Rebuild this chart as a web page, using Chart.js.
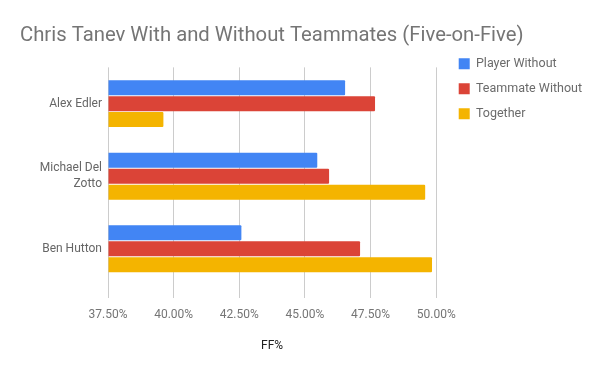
<!DOCTYPE html>
<html>
<head>
<meta charset="utf-8">
<script src="https://cdn.jsdelivr.net/npm/chart.js@4.4.1/dist/chart.umd.min.js"></script>
<style>
  html, body { margin: 0; padding: 0; background: #fff; }
  #wrap { width: 600px; height: 371px; position: relative; }
</style>
</head>
<body>
<div id="wrap"><canvas id="myChart"></canvas></div>
<script>
const players = [
    'Alex Edler',
    ['Michael Del', 'Zotto'],
    'Ben Hutton'
];
const playerWithout = [46.53, 45.47, 42.58];
const teammateWithout = [47.67, 45.92, 47.10];
const together = [39.61, 49.58, 49.84];
const xTicks = [37.5, 40, 42.5, 45, 47.5, 50];

const data = {
    labels: players,
    datasets: [{
        label: 'Player Without',
        data: playerWithout,
        backgroundColor: '#4285F4'
    }, {
        label: 'Teammate Without',
        data: teammateWithout,
        backgroundColor: '#DB4437'
    }, {
        label: 'Together',
        data: together,
        backgroundColor: '#F4B400'
    }]
};

const config = {
    type: 'bar',
    data: data,
    options: {
        indexAxis: 'y',
        responsive: true,
        maintainAspectRatio: false,
        animation: false,
        base: 37.5,
        layout: {
            padding: { left: 20, right: 8, top: 0, bottom: 0 }
        },
        datasets: {
            bar: {
                categoryPercentage: 0.66,
                barPercentage: 0.94,
                borderRadius: 1,
                borderSkipped: 'start'
            }
        },
        scales: {
            x: {
                min: xTicks[0],
                max: xTicks[xTicks.length - 1],
                afterBuildTicks: function (axis) {
                    axis.ticks = xTicks.map(v => ({ value: v }));
                },
                afterFit: function (axis) { axis.height = 86; },
                ticks: {
                    color: '#757575',
                    font: { family: 'Roboto', size: 12 },
                    padding: 10,
                    callback: v => v.toFixed(2) + '%'
                },
                grid: { color: '#cccccc', tickLength: 13, tickColor: '#cccccc' },
                border: { display: false },
                title: {
                    display: true,
                    text: 'FF%',
                    color: '#222222',
                    font: { family: 'Roboto', size: 12 },
                    padding: { top: 4, bottom: 18 }
                }
            },
            y: {
                afterFit: function (axis) { axis.width = 88; },
                ticks: {
                    color: '#666666',
                    font: { family: 'Roboto', size: 12, lineHeight: 1.34 },
                    padding: 6
                },
                grid: { display: false, drawTicks: false },
                border: { display: false }
            },
            // empty spacer between plot and legend
            yGap: {
                type: 'category',
                position: 'right',
                display: true,
                afterFit: function (axis) { axis.width = 10; },
                ticks: { display: false },
                grid: { display: false, drawTicks: false },
                border: { display: false }
            }
        },
        plugins: {
            title: {
                display: true,
                text: 'Chris Tanev With and Without Teammates (Five-on-Five)',
                align: 'start',
                color: '#757575',
                font: { family: 'Roboto', size: 20.3, weight: 'normal' },
                padding: { top: 24, bottom: 19 }
            },
            legend: {
                position: 'right',
                align: 'start',
                maxWidth: 220,
                title: {
                    display: true,
                    text: ' ',
                    font: { family: 'Roboto', size: 12 },
                    padding: { top: 30.6, bottom: 0 }
                },
                labels: {
                    color: '#6b6b6b',
                    font: { family: 'Roboto', size: 12.5 },
                    boxWidth: 11,
                    boxHeight: 11,
                    padding: 12.5
                }
            },
            tooltip: { enabled: false }
        }
    }
};

const chart = new Chart(
                document.getElementById('myChart'),
                config
            );
</script>
</body>
</html>
